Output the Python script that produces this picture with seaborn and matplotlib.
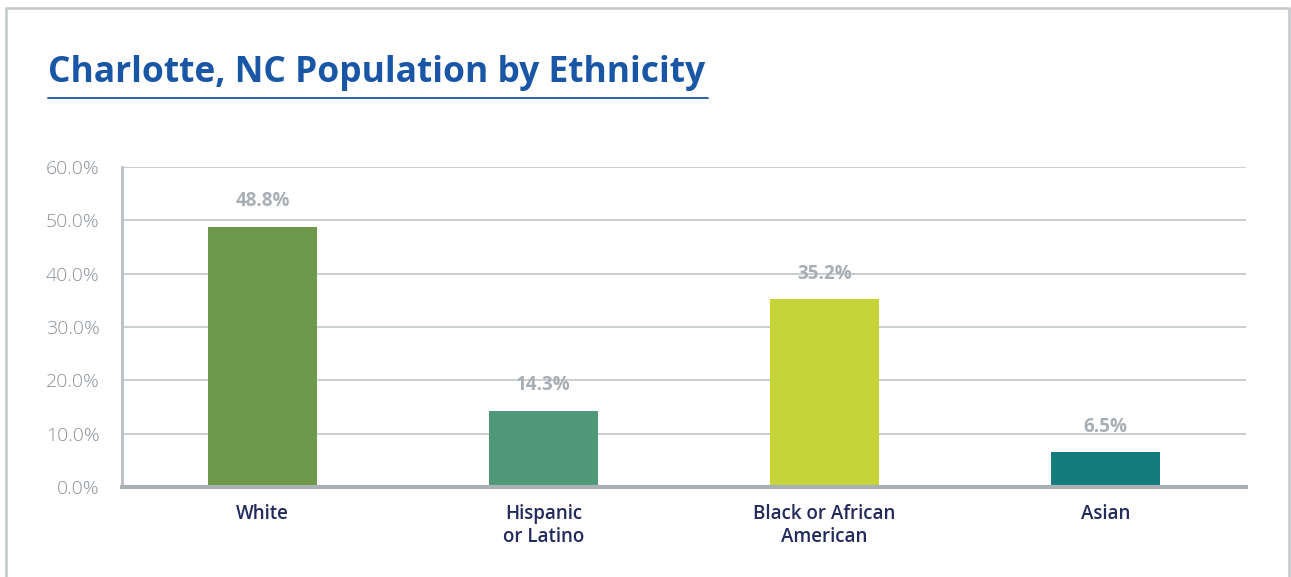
import matplotlib
matplotlib.use("Agg")
import matplotlib.pyplot as plt
from matplotlib.patches import Rectangle
from matplotlib.lines import Line2D
import pandas as pd
import seaborn as sns

# Population share by ethnicity (percent)
categories = ["White", "Hispanic\nor Latino", "Black or African\nAmerican", "Asian"]
shares = [48.8, 14.3, 35.2, 6.5]
bar_colors = ["#6e994b", "#4f9878", "#c6d437", "#147c7c"]
y_ticks = [0, 10, 20, 30, 40, 50, 60]
title_text = "Charlotte, NC Population by Ethnicity"

df = pd.DataFrame({"ethnicity": categories, "share": shares})

sns.set_theme(style="white")
plt.rcParams["font.family"] = ["Open Sans", "DejaVu Sans"]

W, H = 1291, 577
fig = plt.figure(figsize=(W / 100, H / 100), dpi=100)
fig.patch.set_facecolor("white")

ax = fig.add_axes([122 / W, 1 - 487 / H, (1246 - 122) / W, (487 - 167) / H])
sns.barplot(data=df, x="ethnicity", y="share", hue="ethnicity",
            palette=bar_colors, width=0.39, saturation=1, legend=False,
            linewidth=0, edgecolor="none", ax=ax)

ax.set_ylim(0, 60)
ax.set_xlim(-0.5, 3.5)
ax.set_yticks(y_ticks)
ax.set_yticklabels([f"{v:.1f}%" for v in y_ticks], color="#8b9298",
                   fontsize=14, fontweight="light")
ax.set_xticks(range(len(categories)))
ax.set_xticklabels(categories, color="#232a5c", fontsize=13.5,
                   fontweight="semibold", linespacing=1.25)
ax.tick_params(axis="y", length=0, pad=16)
ax.tick_params(axis="x", length=0, pad=12)
ax.set_xlabel("")
ax.set_ylabel("")

ax.yaxis.grid(True, color="#c9ced1", linewidth=1.4)
ax.set_axisbelow(True)
for side in ["top", "right"]:
    ax.spines[side].set_visible(False)
ax.spines["left"].set_color("#b9bfc3")
ax.spines["left"].set_linewidth(2)
ax.spines["bottom"].set_color("#aab1b5")
ax.spines["bottom"].set_linewidth(3)
ax.spines["bottom"].set_zorder(5)

for patch, val in zip(ax.patches, shares):
    ax.annotate(f"{val:.1f}%",
                (patch.get_x() + patch.get_width() / 2, patch.get_height()),
                xytext=(0, 11), textcoords="offset points",
                ha="center", va="bottom", color="#a8afb4",
                fontsize=13.5, fontweight="bold")

# Title with underline
fig.text(48 / W, 1 - 73 / H, title_text, color="#1a56a6", fontsize=25.5,
         fontweight="bold", ha="left", va="center")
fig.add_artist(Line2D([48 / W, 708 / W], [1 - 98 / H, 1 - 98 / H],
                      color="#2d62a8", linewidth=1.4,
                      transform=fig.transFigure))

# Outer panel border
fig.add_artist(Rectangle((6 / W, -0.1), (1289 - 6) / W, 1.1 - 8 / H,
                         fill=False, edgecolor="#c3c8cb", linewidth=1.8,
                         transform=fig.transFigure))

fig.savefig("out.png", dpi=100, facecolor="white")
